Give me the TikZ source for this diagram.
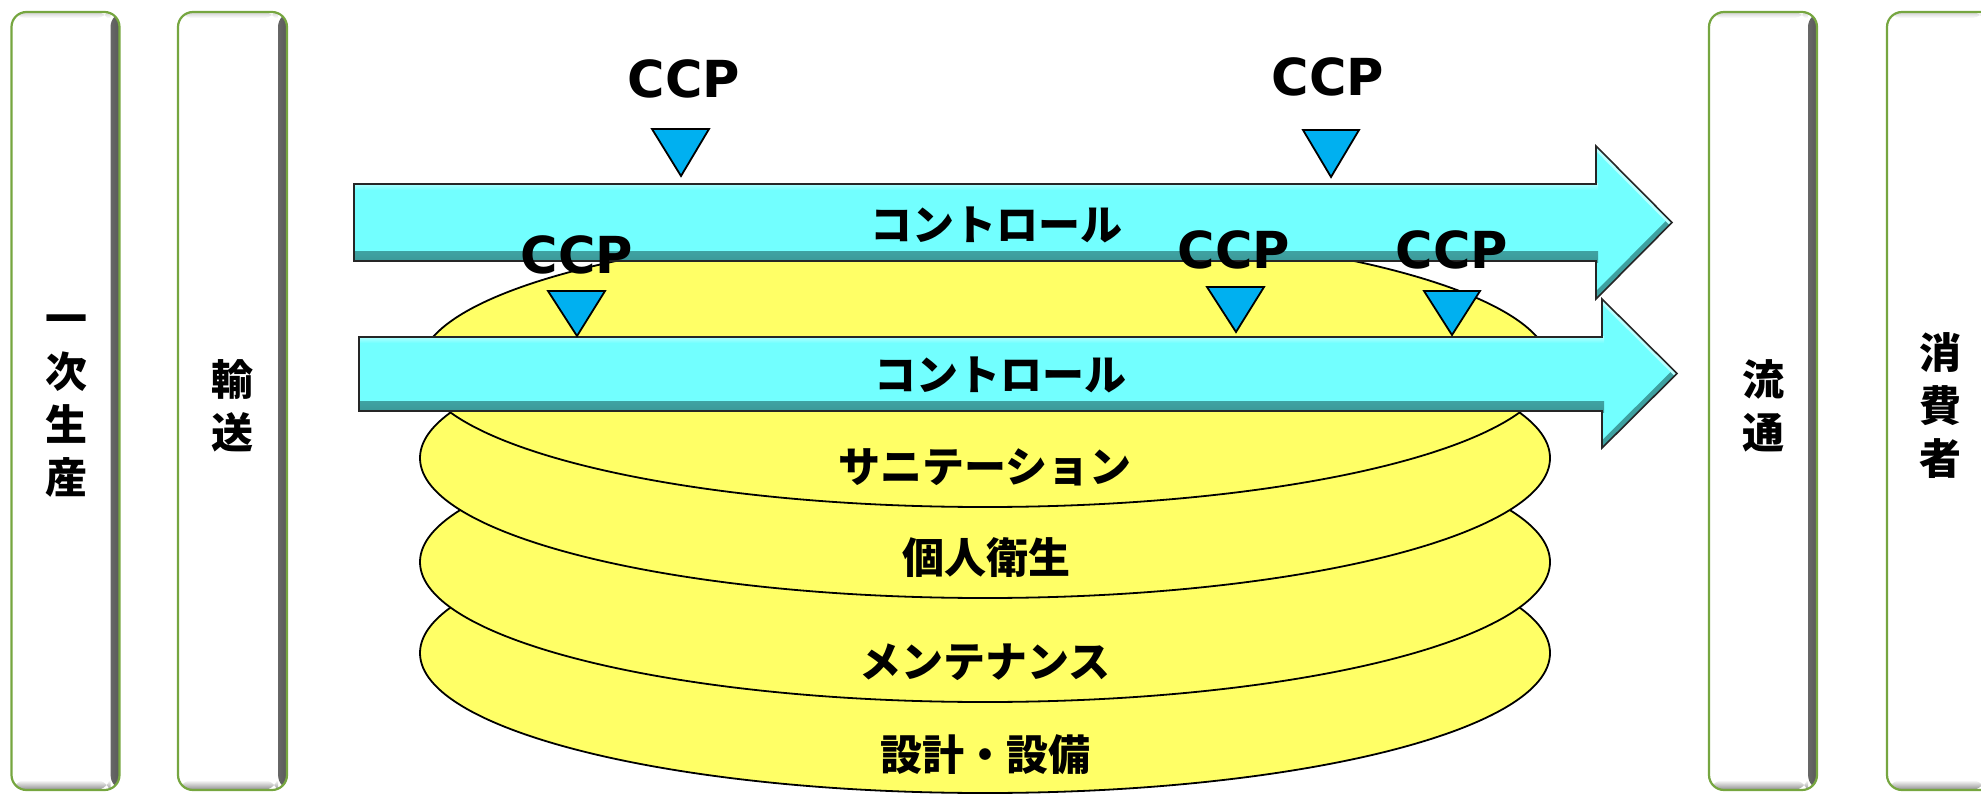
\documentclass[tikz,border=0pt]{standalone}
\usepackage{fontspec}
\newfontfamily\jpfont{Noto Sans CJK JP}
\newfontfamily\ccpfont{DejaVu Sans}
\definecolor{boxgreen}{RGB}{118,166,64}
\definecolor{arrowcyan}{RGB}{114,255,255}
\definecolor{arrowdark}{RGB}{40,120,120}
\definecolor{arrowlight}{RGB}{185,255,255}
\definecolor{ccpblue}{RGB}{0,176,240}
\definecolor{ellyellow}{RGB}{255,255,102}
\begin{document}
\begin{tikzpicture}[x=1pt,y=-1pt,
  sidebox/.style={draw=boxgreen, line width=2.2pt, fill=white, rounded corners=15pt,
    minimum width=108pt, minimum height=778pt, inner sep=0pt,
    path picture={
      \shade[left color=white, middle color=black!12, right color=black!65]
        ([xshift=-9pt]path picture bounding box.north east) rectangle (path picture bounding box.south east);
      \shade[top color=white, middle color=black!10, bottom color=black!45]
        ([yshift=10pt]path picture bounding box.south west) rectangle ([xshift=-9pt]path picture bounding box.south east);
      \shade[top color=black!18, bottom color=white]
        (path picture bounding box.north west) rectangle ([xshift=-9pt,yshift=-6pt]path picture bounding box.north east);
    }},
  sidelabel/.style={font=\jpfont\bfseries\fontsize{42}{53}\selectfont, align=center, inner sep=0pt},
  ell/.style={draw=black, line width=1.8pt, fill=ellyellow},
  elllabel/.style={font=\jpfont\bfseries\fontsize{42}{50}\selectfont, inner sep=0pt},
  arrowshape/.style={draw=black!85, line width=1.6pt, fill=arrowcyan, line join=miter},
  ccptri/.style={draw=black, line width=1.8pt, fill=ccpblue, line join=miter},
  ccplabel/.style={font=\ccpfont\bfseries\fontsize{51}{56}\selectfont, inner sep=0pt, anchor=base}
]
\useasboundingbox (0,0) rectangle (1981,793);

% side boxes
\node[sidebox] (b1) at (65.5,401) {};
\node[sidebox, minimum width=109pt] (b2) at (232.5,401) {};
\node[sidebox] (b3) at (1763,401) {};
\node[sidebox] (b4) at (1941,401) {};
\node[sidelabel] (l1) at (66,406) {一\\次\\生\\産};
\node[sidelabel] (l2) at (232,406) {輸\\送};
\node[sidelabel] (l3) at (1763,406) {流\\通};
\node[sidelabel] (l4) at (1940,406) {消\\費\\者};

% stacked ellipses (bottom first)
\draw[ell] (985,653) ellipse [x radius=565, y radius=140];
\draw[ell] (985,562) ellipse [x radius=565, y radius=140];
\draw[ell] (985,458) ellipse [x radius=565, y radius=140];
\draw[ell] (985,367) ellipse [x radius=565, y radius=140];
\node[elllabel] (e1) at (985,467) {サニテーション};
\node[elllabel] (e2) at (986,558) {個人衛生};
\node[elllabel] (e3) at (985,662) {メンテナンス};
\node[elllabel] (e4) at (985,755) {設計・設備};

% upper arrow
\draw[arrowshape, path picture={
    \shade[top color=arrowcyan, bottom color=arrowdark] (340,251) rectangle (1598,262);
    \shade[top color=arrowlight, bottom color=arrowcyan] (340,183) rectangle (1598,190);
    \draw[arrowdark!70!arrowcyan, line width=11pt] (1672,222.5) -- (1596,299);
    \draw[arrowlight, line width=7pt] (1672,222.5) -- (1596,146);
  }] (354,184) -- (1596,184) -- (1596,146) -- (1672,222.5) -- (1596,299) -- (1596,261) -- (354,261) -- cycle;
% lower arrow
\draw[arrowshape, path picture={
    \shade[top color=arrowcyan, bottom color=arrowdark] (345,401) rectangle (1604,412);
    \shade[top color=arrowlight, bottom color=arrowcyan] (345,336) rectangle (1604,343);
    \draw[arrowdark!70!arrowcyan, line width=11pt] (1677,373.5) -- (1602,448);
    \draw[arrowlight, line width=7pt] (1677,373.5) -- (1602,299);
  }] (359,337) -- (1602,337) -- (1602,299) -- (1677,373.5) -- (1602,448) -- (1602,411) -- (359,411) -- cycle;
\node[elllabel] (c1) at (996,225) {コントロール};
\node[elllabel] (c2) at (1000,375) {コントロール};

% CCP markers
\draw[ccptri] (652,129) -- (709,129) -- (681,176) -- cycle;
\draw[ccptri] (1303,130) -- (1359,130) -- (1331,177) -- cycle;
\draw[ccptri] (548,291) -- (605,291) -- (577,336) -- cycle;
\draw[ccptri] (1207,287) -- (1264,287) -- (1236,332) -- cycle;
\draw[ccptri] (1424,291) -- (1480,291) -- (1452,335) -- cycle;
\node[ccplabel] (p1) at (684,97) {CCP};
\node[ccplabel] (p2) at (1328,95) {CCP};
\node[ccplabel] (p3) at (577,273) {CCP};
\node[ccplabel] (p4) at (1234,268) {CCP};
\node[ccplabel] (p5) at (1452,268) {CCP};
\end{tikzpicture}
\end{document}
